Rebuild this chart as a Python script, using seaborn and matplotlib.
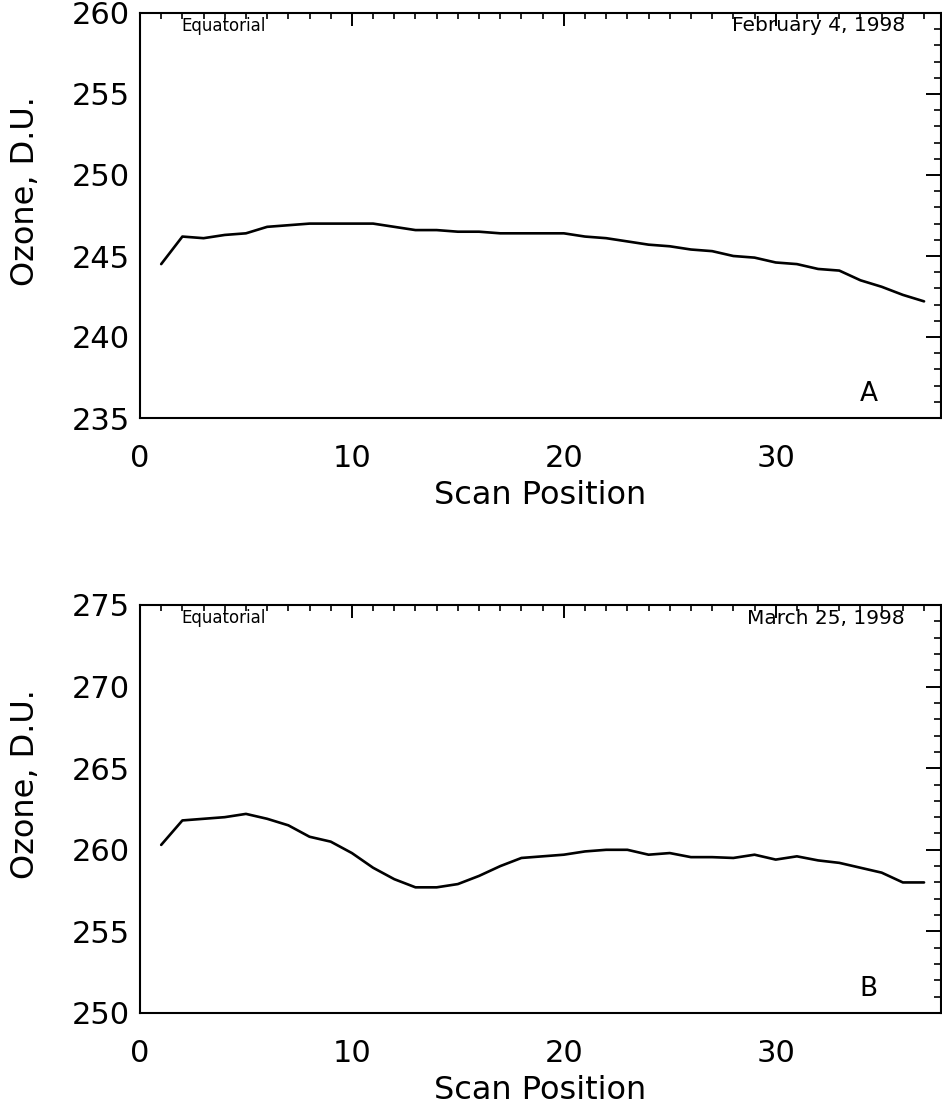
import numpy as np
import pandas as pd
import matplotlib
matplotlib.use("Agg")
import matplotlib.pyplot as plt
import seaborn as sns
from matplotlib.ticker import MultipleLocator

sns.set_theme(style="white")
plt.rcParams['font.family'] = ['DejaVu Sans']
plt.rcParams.update({"text.color": "black", "axes.labelcolor": "black",
                     "xtick.color": "black", "ytick.color": "black"})

scan_pos = list(range(1, 38))
ozone_feb = [244.5, 246.2, 246.1, 246.3, 246.4, 246.8, 246.9, 247.0, 247.0, 247.0,
             247.0, 246.8, 246.6, 246.6, 246.5, 246.5, 246.4, 246.4, 246.4, 246.4,
             246.2, 246.1, 245.9, 245.7, 245.6, 245.4, 245.3, 245.0, 244.9, 244.6,
             244.5, 244.2, 244.1, 243.5, 243.1, 242.6, 242.2]
ozone_mar = [260.3, 261.8, 261.9, 262.0, 262.2, 261.9, 261.5, 260.8, 260.5, 259.8,
             258.9, 258.2, 257.7, 257.7, 257.9, 258.4, 259.0, 259.5, 259.6, 259.7,
             259.9, 260.0, 260.0, 259.7, 259.8, 259.55, 259.55, 259.5, 259.7, 259.4,
             259.6, 259.35, 259.2, 258.9, 258.6, 258.0, 258.0]

panels = [
    dict(y=ozone_feb, ylim=(235, 260), date="February 4, 1998", tag="A"),
    dict(y=ozone_mar, ylim=(250, 275), date="March 25, 1998", tag="B"),
]

W, H = 942, 1110
fig = plt.figure(figsize=(W / 100, H / 100), dpi=100)
rects = [(140, 13, 941, 418), (140, 605, 941, 1013)]

for p, (x0, y0, x1, y1) in zip(panels, rects):
    ax = fig.add_axes([x0 / W, 1 - y1 / H, (x1 - x0) / W, (y1 - y0) / H])
    df = pd.DataFrame({"Scan Position": scan_pos, "Ozone": p["y"]})
    sns.lineplot(data=df, x="Scan Position", y="Ozone", ax=ax, color="black", linewidth=1.9)
    ax.set_xlim(0, 37.8)
    ax.set_ylim(*p["ylim"])
    ax.xaxis.set_major_locator(MultipleLocator(10))
    ax.xaxis.set_minor_locator(MultipleLocator(1))
    ax.yaxis.set_major_locator(MultipleLocator(5))
    ax.yaxis.set_minor_locator(MultipleLocator(1))
    ax.tick_params(which="both", direction="in", top=True, right=True, color="black")
    ax.tick_params(axis="y", which="major", length=11, width=1.4, labelsize=22, pad=7)
    ax.tick_params(axis="y", which="minor", length=5, width=1.2)
    ax.tick_params(axis="x", which="major", length=9, width=1.4, labelsize=22, pad=19)
    ax.tick_params(axis="x", which="minor", length=4, width=1.2)
    for s in ax.spines.values():
        s.set_color("black")
        s.set_linewidth(1.5)
    ax.set_xlabel("Scan Position", fontsize=23, labelpad=5)
    ax.set_ylabel("Ozone, D.U.", fontsize=23)
    ax.yaxis.set_label_coords(-0.124, 0.56)
    fig.canvas.draw()
    ylabels = ax.get_yticklabels()
    ylabels[0].set_va("bottom")
    ylabels[-1].set_va("top")
    ax.text(0.052, 0.968, "Equatorial", transform=ax.transAxes, fontsize=12,
            ha="left", va="center")
    ax.text(0.955, 0.968, p["date"], transform=ax.transAxes, fontsize=14.5,
            ha="right", va="center")
    ax.text(0.91, 0.028, p["tag"], transform=ax.transAxes, fontsize=19,
            ha="center", va="bottom")

fig.savefig("out.png", dpi=100)
